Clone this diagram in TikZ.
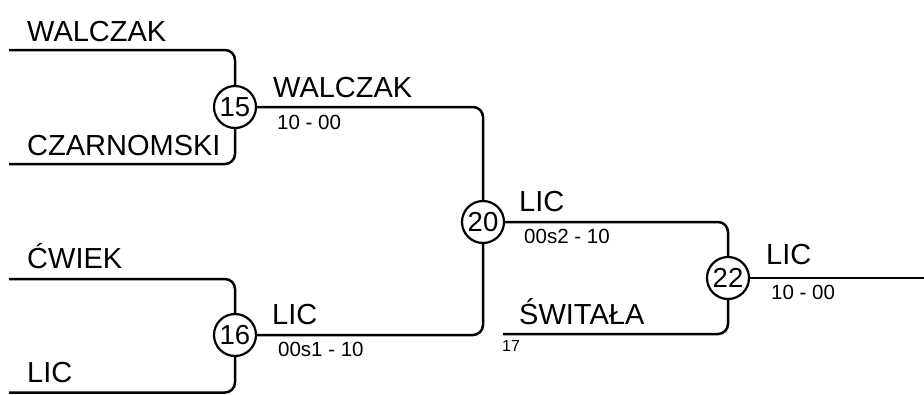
\documentclass[tikz,border=0pt]{standalone}
\usepackage{fontspec}
\setmainfont{Liberation Sans}
\begin{document}
\begin{tikzpicture}[x=1pt,y=-1pt,
  game/.style={circle,draw,line width=2.2pt,minimum size=42pt,inner sep=0pt,font=\fontsize{27.5}{30}\selectfont},
  br/.style={line width=2.5pt,rounded corners=10pt},
  player/.style={anchor=base west,inner sep=0pt,font=\fontsize{29}{32}\selectfont},
  score/.style={anchor=base west,inner sep=0pt,font=\fontsize{20.5}{23}\selectfont},
  seed/.style={anchor=base west,inner sep=0pt,font=\fontsize{16}{18}\selectfont}]
\useasboundingbox (0,0) rectangle (924,394);
\node[game] (c15) at (235,107) {15};
\node[game] (c16) at (235,335) {16};
\node[game] (c20) at (483,222) {20};
\node[game] (c22) at (728,278) {22};
\coordinate (p1) at (9,50);
\coordinate (p2) at (9,164);
\coordinate (p3) at (9,279);
\coordinate (p4) at (9,392.5);
\coordinate (p17) at (503,334);
\coordinate (pend) at (924,278);
\draw[br] (p1) -| (c15);
\draw[br] (p2) -| (c15);
\draw[br] (p3) -| (c16);
\draw[br] (p4) -| (c16);
\draw[br] (c15) -| (c20);
\draw[br] (c16) -| (c20);
\draw[br] (c20) -| (c22);
\draw[br] (p17) -| (c22);
\draw[br] (c22) -- (pend);
\node[player] (t1) at (27,41) {WALCZAK};
\node[player] (t2) at (27,155) {CZARNOMSKI};
\node[player] (t3) at (27,268) {ĆWIEK};
\node[player] (t4) at (27,382) {LIC};
\node[player] (t5) at (273,97) {WALCZAK};
\node[score] (s5) at (277,129) {10 - 00};
\node[player] (t6) at (272,324) {LIC};
\node[score] (s6) at (278,356) {00s1 - 10};
\node[player] (t7) at (519,211) {LIC};
\node[score] (s7) at (524,243) {00s2 - 10};
\node[player] (t8) at (519,324) {ŚWITAŁA};
\node[seed] (s8) at (502,351) {17};
\node[player] (t9) at (766,264) {LIC};
\node[score] (s9) at (771,299) {10 - 00};
\end{tikzpicture}
\end{document}
